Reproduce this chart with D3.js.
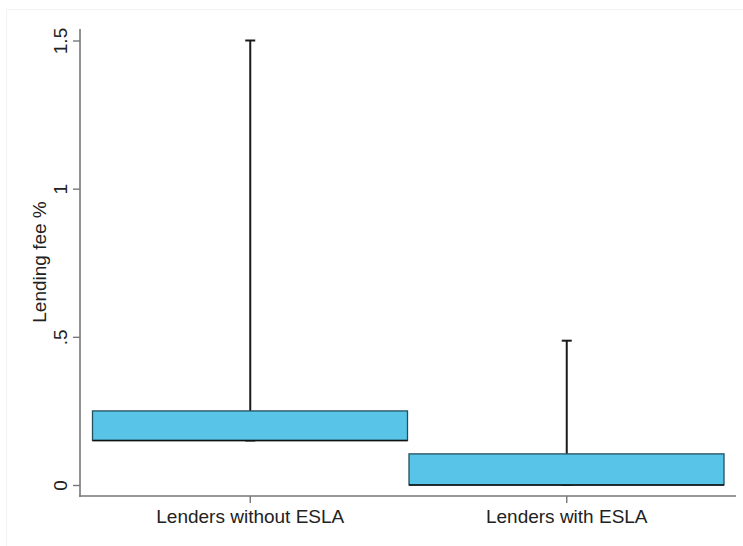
<!DOCTYPE html>
<html>
<head>
<meta charset="utf-8">
<script src="https://cdn.jsdelivr.net/npm/d3@7"></script>
<style>
	body { margin: 0; background: #fff; }
	svg text { font-family: "Liberation Sans", Arial, sans-serif; fill: #222; }
</style>
</head>
<body>
<div id="chart"></div>
<script>
// groups and box statistics (lending fee %)
var groups = ["Lenders without ESLA", "Lenders with ESLA"];
var q1 = [0.15, 0];
var median = [0.15, 0];
var q3 = [0.25, 0.105];
var lowerWhisker = [0.15, 0];
var upperWhisker = [1.5, 0.487];
var yTicks = [0, 0.5, 1, 1.5];
var yTickLabels = ["0", ".5", "1", "1.5"];

var rows = groups.map(function(g, i) {
	return {group: g, q1: q1[i], med: median[i], q3: q3[i], lo: lowerWhisker[i], hi: upperWhisker[i]};
});

var svg = d3.select("#chart").append("svg")
	.attr("width", 743)
	.attr("height", 546);

// faint outer frame
svg.append("rect")
	.attr("x", 6.5).attr("y", 9.5)
	.attr("width", 745).attr("height", 545)
	.attr("fill", "none")
	.attr("stroke", "#f3f3f3");

var xScale = d3.scaleBand()
	.domain(groups)
	.range([92, 725])
	.padding(0);

var yScale = d3.scaleLinear()
	.domain([0, 1.5])
	.range([485, 40.5]);

var boxColor = "#57c4e8";

var g = svg.selectAll("g.box")
	.data(rows)
	.enter()
	.append("g")
	.attr("class", "box");

// whiskers
g.append("line")
	.attr("x1", function(d) { return xScale(d.group) + xScale.bandwidth() / 2; })
	.attr("x2", function(d) { return xScale(d.group) + xScale.bandwidth() / 2; })
	.attr("y1", function(d) { return yScale(d.q3); })
	.attr("y2", function(d) { return yScale(d.hi); })
	.attr("stroke", "#1a1a1a")
	.attr("stroke-width", 2);

g.append("line")
	.attr("x1", function(d) { return xScale(d.group) + xScale.bandwidth() / 2 - 5; })
	.attr("x2", function(d) { return xScale(d.group) + xScale.bandwidth() / 2 + 5; })
	.attr("y1", function(d) { return yScale(d.hi); })
	.attr("y2", function(d) { return yScale(d.hi); })
	.attr("stroke", "#1a1a1a")
	.attr("stroke-width", 2);

g.append("line")
	.attr("x1", function(d) { return xScale(d.group) + xScale.bandwidth() / 2 - 5; })
	.attr("x2", function(d) { return xScale(d.group) + xScale.bandwidth() / 2 + 5; })
	.attr("y1", function(d) { return yScale(d.lo); })
	.attr("y2", function(d) { return yScale(d.lo); })
	.attr("stroke", "#1a1a1a")
	.attr("stroke-width", 2);

// boxes
g.append("rect")
	.attr("x", function(d) { return xScale(d.group) + 0.5; })
	.attr("width", xScale.bandwidth() - 1.5)
	.attr("y", function(d) { return yScale(d.q3); })
	.attr("height", function(d) { return yScale(d.q1) - yScale(d.q3); })
	.attr("fill", boxColor)
	.attr("stroke", "#24505e")
	.attr("stroke-width", 1.3);

// median
g.append("line")
	.attr("x1", function(d) { return xScale(d.group) + 0.5; })
	.attr("x2", function(d) { return xScale(d.group) + xScale.bandwidth() - 1; })
	.attr("y1", function(d) { return yScale(d.med); })
	.attr("y2", function(d) { return yScale(d.med); })
	.attr("stroke", "#111")
	.attr("stroke-width", 1.6);

// y axis
var yAxis = d3.axisLeft(yScale)
	.tickValues(yTicks)
	.tickFormat(function(d, i) { return yTickLabels[i]; })
	.tickSize(7)
	.tickSizeOuter(0)
	.tickPadding(6);

var ya = svg.append("g")
	.attr("transform", "translate(80,0)")
	.call(yAxis);
ya.select(".domain").remove();
ya.append("line")
	.attr("x1", 0).attr("x2", 0)
	.attr("y1", 29).attr("y2", 497)
	.attr("stroke", "#777").attr("stroke-width", 1.6);
ya.selectAll(".tick line").attr("stroke", "#777").attr("stroke-width", 1.4);
ya.selectAll(".tick text")
	.attr("x", null).attr("dy", null)
	.attr("transform", "translate(-13,0) rotate(-90)")
	.attr("text-anchor", "middle")
	.attr("dy", "0")
	.style("font-size", "19px")
	.style("fill", "#222");

// x axis
var xAxis = d3.axisBottom(xScale)
	.tickSize(7)
	.tickSizeOuter(0)
	.tickPadding(7);

var xa = svg.append("g")
	.attr("transform", "translate(0,496)")
	.call(xAxis);
xa.select(".domain").remove();
xa.append("line")
	.attr("x1", 79.2).attr("x2", 736)
	.attr("y1", 0).attr("y2", 0)
	.attr("stroke", "#777").attr("stroke-width", 1.6);
xa.selectAll(".tick line").attr("stroke", "#777").attr("stroke-width", 1.4);
xa.selectAll(".tick text")
	.style("font-size", "19px")
	.style("fill", "#222");

// y axis title
svg.append("text")
	.attr("transform", "translate(46,262) rotate(-90)")
	.attr("text-anchor", "middle")
	.style("font-size", "19px")
	.text("Lending fee %");
</script>
</body>
</html>
